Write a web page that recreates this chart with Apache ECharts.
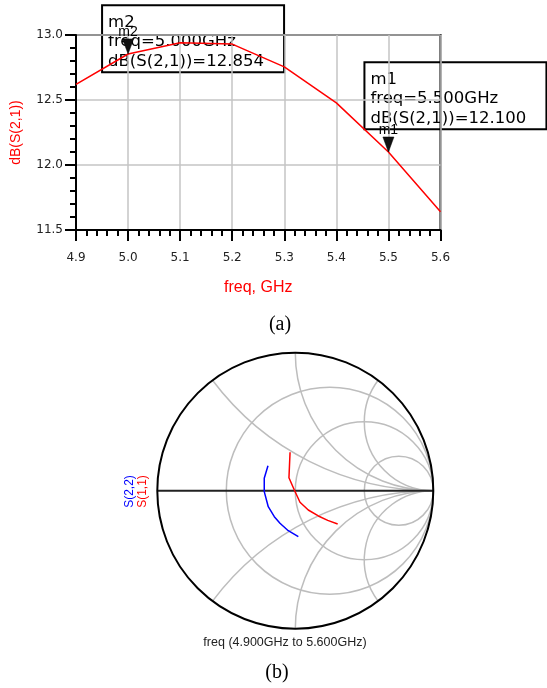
<!DOCTYPE html>
<html><head><meta charset="utf-8">
<script src="https://cdn.jsdelivr.net/npm/echarts@6/dist/echarts.min.js"></script>
<style>html,body{margin:0;padding:0;background:#fff}#c{width:547px;height:688px}</style>
</head><body><div id="c"></div>
<script>
// ---- data ----
const freq = [4.9, 5.0, 5.1, 5.2, 5.3, 5.4, 5.5, 5.6];
const s21dB = [12.62, 12.854, 12.94, 12.93, 12.755, 12.478, 12.100, 11.64];
const markerNames = ['m2', 'm1'];
const markerFreq = [5.0, 5.5];
const markerVal = [12.854, 12.100];
const s11Re = [-0.038, -0.046, -0.007, 0.034, 0.094, 0.167, 0.235, 0.307];
const s11Im = [0.278, 0.094, 0.005, -0.084, -0.140, -0.183, -0.215, -0.241];
const s22Re = [-0.198, -0.225, -0.225, -0.196, -0.152, -0.111, -0.051, 0.022];
const s22Im = [0.181, 0.090, -0.007, -0.116, -0.188, -0.236, -0.290, -0.333];
const smithR = [1/3, 1, 3];
const smithX = [0.5, 1, 2];

const chart = echarts.init(document.getElementById('c'));
const sans = '"Liberation Sans", Arial, sans-serif';
const wide = '"DejaVu Sans", sans-serif';

const smithData = [];
smithR.forEach(r => smithData.push([0, r]));
smithX.forEach(x => { smithData.push([1, x]); smithData.push([1, -x]); });
smithData.push([2, 1]);
smithData.push([3, 0]);

function renderSmith(params, api) {
  const kind = api.value(0), v = api.value(1);
  const gray = {stroke: '#bdbdbd', lineWidth: 1.5, fill: null};
  if (kind === 0) {
    const c = api.coord([v / (v + 1), 0]);
    const r = api.size([1 / (v + 1), 0])[0];
    return {type: 'circle', shape: {cx: c[0], cy: c[1], r: r}, style: gray, silent: true};
  }
  if (kind === 1) {
    const b = 1 / v;
    const c = api.coord([1, b]);
    const r = api.size([Math.abs(b), 0])[0];
    const gx = (v * v - 1) / (v * v + 1), gy = 2 * v / (v * v + 1);
    const p2 = api.coord([gx, gy]);
    const a2 = Math.atan2(p2[1] - c[1], p2[0] - c[0]);
    let s, e;
    if (v > 0) { s = Math.PI / 2; e = a2; while (e < s) e += 2 * Math.PI; }
    else { e = -Math.PI / 2; s = a2; while (s > e) s -= 2 * Math.PI; }
    return {type: 'arc', shape: {cx: c[0], cy: c[1], r: r, startAngle: s, endAngle: e, clockwise: true}, style: gray, silent: true};
  }
  if (kind === 2) {
    const c = api.coord([0, 0]);
    const r = api.size([1, 0])[0];
    return {type: 'circle', shape: {cx: c[0], cy: c[1], r: r}, style: {stroke: '#000', lineWidth: 2, fill: null}, silent: true, z2: 5};
  }
  const a = api.coord([-1, 0]), b = api.coord([1, 0]);
  return {type: 'line', shape: {x1: a[0], y1: a[1], x2: b[0], y2: b[1]}, style: {stroke: '#222', lineWidth: 2}, silent: true, z2: 4};
}

const option = {
  animation: false,
  backgroundColor: '#fff',
  grid: [
    {left: 76, top: 35, width: 364.5, height: 195, show: true, borderColor: '#000', borderWidth: 2, backgroundColor: 'transparent'},
    {left: 157.3, top: 352.7, width: 276, height: 276}
  ],
  xAxis: [
    {type: 'value', gridIndex: 0, min: 4.9, max: 5.6, interval: 0.1,
     axisLine: {onZero: false, lineStyle: {color: '#000', width: 2}},
     axisTick: {show: true, inside: false, length: 11, lineStyle: {color: '#000', width: 2}},
     minorTick: {show: true, splitNumber: 5, length: 6, lineStyle: {color: '#000', width: 2}},
     axisLabel: {margin: 22, color: '#222', fontFamily: wide, fontSize: 12, formatter: v => v.toFixed(1)},
     splitLine: {show: true, lineStyle: {color: '#c4c4c4', width: 1.5}},
     name: 'freq, GHz', nameLocation: 'middle', nameGap: 50,
     nameTextStyle: {color: '#ff0000', fontFamily: sans, fontSize: 16}},
    {type: 'value', gridIndex: 1, min: -1, max: 1, show: false}
  ],
  yAxis: [
    {type: 'value', gridIndex: 0, min: 11.5, max: 13, interval: 0.5,
     axisLine: {onZero: false, lineStyle: {color: '#000', width: 2}},
     axisTick: {show: true, inside: false, length: 11, lineStyle: {color: '#000', width: 2}},
     minorTick: {show: true, splitNumber: 5, length: 6, lineStyle: {color: '#000', width: 2}},
     axisLabel: {margin: 13, color: '#222', fontFamily: wide, fontSize: 12, formatter: v => v.toFixed(1)},
     splitLine: {show: true, lineStyle: {color: '#c4c4c4', width: 1.5}},
     name: 'dB(S(2,1))', nameLocation: 'middle', nameGap: 53, nameRotate: 90,
     nameTextStyle: {color: '#ff0000', fontFamily: sans, fontSize: 14}},
    {type: 'value', gridIndex: 1, min: -1, max: 1, show: false}
  ],
  series: [
    {type: 'line', xAxisIndex: 0, yAxisIndex: 0, showSymbol: false, symbol: 'none',
     lineStyle: {color: '#ff0000', width: 1.5}, z: 3,
     data: freq.map((f, i) => [f, s21dB[i]]),
     markPoint: {
       symbol: 'path://M0,0 L10,0 L5,14 Z', symbolSize: [11, 15], symbolOffset: [0, '-50%'],
       itemStyle: {color: '#111', borderColor: '#000', borderWidth: 0.5},
       label: {show: true, position: 'top', distance: 0, formatter: '{b}', color: '#000', fontFamily: sans, fontSize: 14},
       data: markerNames.map((n, i) => ({name: n, coord: [markerFreq[i], markerVal[i]]}))
     }},
    {type: 'custom', xAxisIndex: 1, yAxisIndex: 1, renderItem: renderSmith, data: smithData, clip: false, silent: true, z: 1},
    {type: 'line', xAxisIndex: 1, yAxisIndex: 1, showSymbol: false, symbol: 'none', z: 5,
     lineStyle: {color: '#ff0000', width: 1.5}, data: s11Re.map((r, i) => [r, s11Im[i]])},
    {type: 'line', xAxisIndex: 1, yAxisIndex: 1, showSymbol: false, symbol: 'none', z: 5,
     lineStyle: {color: '#0000ff', width: 1.5}, data: s22Re.map((r, i) => [r, s22Im[i]])}
  ],
  graphic: [
    {type: 'text', left: 'center', top: 0, style: {text: ''}},
    {type: 'text', x: 280, y: 325, style: {text: '(a)', font: '20px "Liberation Serif", "Times New Roman", serif', fill: '#000', align: 'center', verticalAlign: 'middle'}},
    {type: 'text', x: 277, y: 673, style: {text: '(b)', font: '20px "Liberation Serif", "Times New Roman", serif', fill: '#000', align: 'center', verticalAlign: 'middle'}},
    {type: 'text', x: 285, y: 643, style: {text: 'freq (4.900GHz to 5.600GHz)', font: '12.5px "Liberation Sans", Arial, sans-serif', fill: '#222', align: 'center', verticalAlign: 'middle'}},
    {type: 'text', x: 129.5, y: 491.5, rotation: Math.PI / 2, style: {text: 'S(2,2)', font: '12px "Liberation Sans", Arial, sans-serif', fill: '#0000ff', align: 'center', verticalAlign: 'middle'}},
    {type: 'text', x: 143, y: 491.5, rotation: Math.PI / 2, style: {text: 'S(1,1)', font: '12px "Liberation Sans", Arial, sans-serif', fill: '#ff0000', align: 'center', verticalAlign: 'middle'}}
  ]
};
chart.setOption(option);

// marker read-out boxes, anchored to the marker points via the chart's own scales
const boxOffsets = [[-26, -48.7], [-24, -89.7]];
const boxes = markerNames.map((n, i) => {
  const p = chart.convertToPixel({gridIndex: 0}, [markerFreq[i], markerVal[i]]);
  const x0 = p[0] + boxOffsets[i][0], y0 = p[1] + boxOffsets[i][1];
  return {
    type: 'group', x: x0, y: y0, z: 10,
    children: [
      {type: 'rect', shape: {x: 0, y: 0, width: 182, height: 67}, style: {fill: 'transparent', stroke: '#000', lineWidth: 2}},
      {type: 'text', x: 6, y: 7.5, style: {
        text: n + '\nfreq=' + markerFreq[i].toFixed(3) + 'GHz\ndB(S(2,1))=' + markerVal[i].toFixed(3),
        font: '16.5px "DejaVu Sans", sans-serif', fill: '#000', lineHeight: 19.5, verticalAlign: 'top'}}
    ]
  };
});
chart.setOption({graphic: option.graphic.concat(boxes)});
</script></body></html>
